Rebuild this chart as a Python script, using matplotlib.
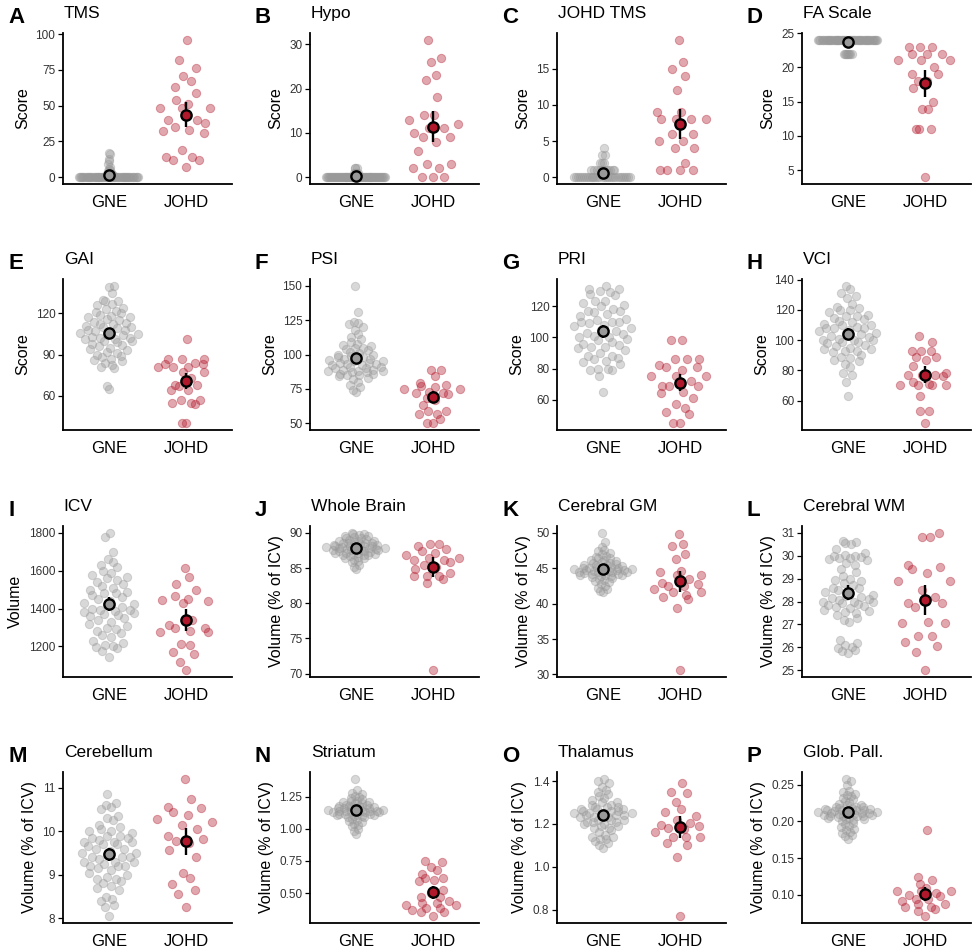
import numpy as np
import matplotlib
matplotlib.use("Agg")
import matplotlib.pyplot as plt
from matplotlib.transforms import offset_copy

plt.rcParams["font.family"] = ["Liberation Sans", "DejaVu Sans"]

# ── Données ───────────────────────────────────────────────────────────────────
GROUPS = ["GNE", "JOHD"]
VOL_LABEL = "Volume (% of ICV)"

TMS_GNE = [17, 16, 13, 11, 9, 7, 6, 5, 4, 3, 3, 2, 2, 2, 1, 1,
           0, 0, 0, 0, 0, 0, 0, 0, 0, 0, 0, 0, 0, 0, 0, 0, 0, 0, 0, 0, 0, 0, 0, 0, 0, 0,
           0, 0, 0, 0, 0, 0, 0, 0, 0, 0, 0, 0, 0, 0, 0, 0, 0, 0, 0, 0, 0, 0, 0, 0, 0, 0]
TMS_JOHD = [96, 82, 76, 71, 67, 63, 59, 54, 51, 48, 48, 48, 40, 40, 38, 35, 33, 32, 31,
            19, 14, 14, 12, 12, 7]

HYPO_GNE = [2, 2, 2, 1, 1, 1, 1,
            0, 0, 0, 0, 0, 0, 0, 0, 0, 0, 0, 0, 0, 0, 0, 0, 0, 0, 0, 0, 0, 0, 0, 0, 0,
            0, 0, 0, 0, 0, 0, 0, 0, 0, 0, 0, 0, 0, 0, 0, 0, 0, 0, 0, 0, 0, 0, 0, 0, 0,
            0, 0, 0, 0, 0, 0, 0, 0, 0, 0, 0]
HYPO_JOHD = [31, 27, 26, 23, 22, 18, 14, 14, 13, 12, 11, 11, 10, 9, 9, 8, 6, 3, 3, 2, 2,
             0, 0, 0]

JTMS_GNE = [4, 3, 3, 2, 2, 2, 1, 1, 1, 1, 1, 1, 1, 1, 1, 1, 1,
            0, 0, 0, 0, 0, 0, 0, 0, 0, 0, 0, 0, 0, 0, 0, 0, 0, 0, 0, 0, 0, 0, 0, 0, 0,
            0, 0, 0]
JTMS_JOHD = [19, 16, 15, 14, 12, 9, 9, 8, 8, 8, 8, 6, 6, 5, 5, 4, 4, 2, 1, 1, 1, 1]

FA_GNE = [24, 24, 24, 24, 24, 24, 24, 24, 24, 24, 24, 24, 24, 24, 24, 24, 24, 24, 24, 24,
          24, 24, 24, 24, 24, 24, 24, 24, 24, 24, 24, 24, 24, 24, 24, 24, 24, 24, 24, 24,
          24, 24, 24, 24, 24, 24, 24, 24, 24, 24, 24, 24,
          22, 22, 22, 22, 22, 22, 22, 22]
FA_JOHD = [23, 23, 23, 22, 22, 22, 21, 21, 21, 20, 19, 19, 18, 18, 17, 15, 14, 14,
           11, 11, 11, 4]

GAI_GNE = [140, 139, 135, 130, 129, 129, 127, 126, 124, 123,
           122, 121, 120, 119, 118, 117, 117, 116, 115, 114,
           113, 112, 112, 111, 110, 110, 109, 108, 108, 107,
           106, 106, 105, 104, 104, 103, 102, 102, 101, 101,
           100, 100, 99, 98, 97, 96, 95, 94, 93, 92,
           91, 90, 89, 88, 87, 86, 85, 84, 82, 81, 80, 67, 65]
GAI_JOHD = [101, 87, 87, 87, 84, 83, 83, 81, 81, 81, 77, 77, 73, 68, 68, 67, 64, 64,
            57, 57, 55, 55, 54, 40, 40]

PSI_GNE = [150, 131, 124, 123, 122, 120, 118, 115, 113, 111,
           109, 108, 107, 106, 105, 105, 104, 103, 102, 101,
           100, 100, 99, 98, 98, 97, 97, 96, 96, 95,
           95, 94, 94, 93, 93, 92, 92, 91, 91, 90,
           90, 89, 89, 88, 88, 88, 87, 87, 86, 86,
           85, 85, 84, 83, 82, 80, 78, 76, 74, 73]
PSI_JOHD = [89, 89, 84, 79, 78, 77, 76, 75, 75, 73, 72, 72, 71, 68, 67, 63, 59, 59,
            57, 57, 53, 50, 50]

PRI_GNE = [133, 131, 131, 130, 129, 128, 127, 123, 123, 122,
           121, 120, 118, 117, 117, 116, 115, 114, 112, 111,
           110, 110, 110, 109, 108, 107, 106, 105, 104, 103,
           102, 101, 100, 100, 99, 98, 97, 96, 95, 94,
           94, 93, 92, 90, 88, 88, 87, 86, 85, 84,
           83, 80, 80, 79, 79, 75, 65]
PRI_JOHD = [98, 98, 86, 86, 86, 82, 81, 81, 79, 75, 75, 75, 72, 69, 69, 69, 65, 64,
            61, 57, 55, 52, 51, 45, 45]

VCI_GNE = [136, 134, 131, 129, 128, 124, 122, 121, 120, 120,
           119, 117, 116, 116, 115, 114, 113, 112, 111, 110, 110, 109,
           108, 108, 108, 107, 106, 105, 105, 104, 103, 102, 101,
           100, 100, 100, 99, 99, 98, 97, 96, 95, 94, 94,
           93, 93, 92, 90, 89, 88, 87, 86, 84, 82, 78, 77, 72, 63]
VCI_JOHD = [103, 99, 93, 93, 93, 89, 89, 87, 83, 78, 77, 77, 77, 76, 72, 71, 70, 70,
            70, 70, 63, 53, 53, 45]

ICV_GNE = [1800, 1780, 1700, 1660, 1645, 1630, 1620, 1600, 1590, 1575,
           1565, 1560, 1550, 1540, 1530, 1520, 1510, 1500, 1490, 1485,
           1480, 1470, 1460, 1450, 1440, 1430, 1425, 1420, 1410, 1400,
           1395, 1390, 1385, 1380, 1375, 1370, 1365, 1360, 1350, 1340,
           1330, 1320, 1310, 1300, 1290, 1280, 1270, 1260, 1250, 1230,
           1220, 1210, 1200, 1195, 1190, 1175, 1145]
ICV_JOHD = [1617, 1568, 1529, 1498, 1465, 1452, 1444, 1440, 1428, 1340, 1311, 1297,
            1297, 1283, 1274, 1274, 1215, 1206, 1171, 1159, 1117, 1075]

WB_GNE = [90.0, 89.9, 89.8, 89.7, 89.6, 89.5, 89.4, 89.3, 89.2, 89.1,
          89.0, 88.9, 88.9, 88.8, 88.7, 88.6, 88.6, 88.5, 88.5, 88.4, 88.3, 88.3,
          88.2, 88.2, 88.1, 88.1, 88.0, 88.0, 88.0, 87.9, 87.9, 87.8, 87.8, 87.7,
          87.7, 87.6, 87.6, 87.5, 87.5, 87.4, 87.4, 87.3, 87.2, 87.2, 87.1, 87.0,
          87.0, 86.9, 86.9, 86.8, 86.7, 86.6, 86.5, 86.4, 86.2, 86.0, 85.8, 85.5,
          85.2, 84.8]
WB_JOHD = [88.4, 88.4, 88.1, 87.7, 87.4, 87.1, 86.8, 86.5, 86.5, 86.1, 86.1, 85.8,
           85.5, 85.2, 84.8, 84.3, 83.9, 83.9, 83.9, 83.4, 82.9, 70.5]

GM_GNE = [50.0, 48.7, 48.0, 47.6, 47.4, 47.2, 47.0, 46.8, 46.6, 46.5, 46.4,
          46.2, 46.1, 46.0, 45.9, 45.8, 45.7, 45.6, 45.5, 45.4, 45.4, 45.3, 45.2,
          45.2, 45.1, 45.1, 45.0, 45.0, 44.9, 44.9, 44.8, 44.8, 44.7, 44.7, 44.6,
          44.6, 44.5, 44.5, 44.4, 44.4, 44.3, 44.2, 44.2, 44.1, 44.1, 44.0, 43.9,
          43.9, 43.8, 43.6, 43.5, 43.4, 43.2, 43.0, 42.8, 42.5, 42.2, 42.0, 41.8,
          41.6]
GM_JOHD = [49.8, 48.4, 48.1, 47.0, 46.3, 44.6, 44.5, 44.0, 44.0, 43.5, 42.9, 42.8,
           42.5, 42.5, 42.1, 41.6, 41.6, 41.2, 40.9, 40.6, 39.4, 30.6]

WM_GNE = [30.65, 30.6, 30.55, 30.5, 30.3, 30.1, 30.05, 30.0, 30.0, 29.95,
          29.9, 29.9, 29.85, 29.8, 29.7, 29.6, 29.4, 29.3, 29.1, 29.0, 28.95, 28.9,
          28.8, 28.7, 28.6, 28.6, 28.5, 28.4, 28.4, 28.3, 28.25, 28.2, 28.15, 28.1,
          28.05, 28.0, 28.0, 28.0, 27.95, 27.9, 27.85, 27.8, 27.75, 27.7,
          27.65, 27.6, 27.55, 27.5, 27.4, 27.3, 27.2, 27.1,
          26.3, 26.2, 26.1, 26.0, 25.95, 25.9, 25.85, 25.75]
WM_JOHD = [31.0, 30.8, 30.8, 29.6, 29.5, 29.4, 29.25, 28.9, 28.9, 28.5, 28.2, 27.95,
           27.95, 27.75, 27.1, 27.05, 27.05, 26.5, 26.5, 26.25, 26.05, 25.8, 25.0]

CBL_GNE = [10.85, 10.65, 10.6, 10.55, 10.5, 10.35, 10.3, 10.25, 10.15, 10.1,
           10.05, 10.0, 10.0, 9.95, 9.9, 9.9, 9.85, 9.85, 9.8, 9.75, 9.75, 9.75,
           9.7, 9.7, 9.65, 9.6, 9.6, 9.55, 9.5, 9.5, 9.45, 9.4, 9.4, 9.4, 9.35,
           9.3, 9.3, 9.3, 9.25, 9.2, 9.2, 9.2, 9.15, 9.1, 9.05, 9.0, 8.95,
           8.9, 8.9, 8.85, 8.8, 8.75, 8.7, 8.65, 8.5, 8.45, 8.4, 8.3, 8.25, 8.05]
CBL_JOHD = [11.2, 10.73, 10.55, 10.54, 10.44, 10.38, 10.28, 10.2, 10.14, 10.05, 9.88,
            9.83, 9.78, 9.72, 9.57, 9.4, 9.05, 8.93, 8.78, 8.65, 8.56, 8.26]

STR_GNE = [1.39, 1.30, 1.28, 1.27, 1.26, 1.25, 1.24, 1.23, 1.22, 1.22, 1.21, 1.21,
           1.20, 1.20, 1.19, 1.19, 1.18, 1.18, 1.18, 1.17, 1.17, 1.17, 1.16, 1.16,
           1.16, 1.15, 1.15, 1.15, 1.15, 1.14, 1.14, 1.14, 1.14, 1.14, 1.13, 1.13,
           1.13, 1.13, 1.12, 1.12, 1.12, 1.11, 1.11, 1.11, 1.10, 1.10, 1.09, 1.09,
           1.08, 1.07, 1.06, 1.05, 1.04, 1.03, 1.02, 1.00, 0.98, 0.96]
STR_JOHD = [0.75, 0.74, 0.70, 0.68, 0.65, 0.62, 0.62, 0.60, 0.59, 0.52, 0.50, 0.47,
            0.47, 0.44, 0.42, 0.42, 0.41, 0.41, 0.38, 0.38, 0.37, 0.35, 0.35, 0.32]

THAL_GNE = [1.41, 1.40, 1.39, 1.37, 1.36, 1.35, 1.34, 1.33, 1.32, 1.31,
            1.30, 1.30, 1.29, 1.29, 1.28, 1.28, 1.28, 1.27, 1.27, 1.27, 1.26, 1.26,
            1.26, 1.25, 1.25, 1.25, 1.25, 1.24, 1.24, 1.24, 1.24, 1.23, 1.23, 1.23,
            1.22, 1.22, 1.22, 1.21, 1.21, 1.21, 1.20, 1.20, 1.19, 1.19, 1.18, 1.18,
            1.17, 1.16, 1.15, 1.14, 1.14, 1.13, 1.13, 1.12, 1.11, 1.10, 1.09]
THAL_JOHD = [1.39, 1.35, 1.345, 1.30, 1.27, 1.255, 1.235, 1.22, 1.205, 1.195, 1.19,
             1.18, 1.175, 1.16, 1.14, 1.14, 1.14, 1.11, 1.10, 1.045, 0.77]

GP_GNE = [0.258, 0.255, 0.250, 0.242, 0.240, 0.238, 0.236, 0.234, 0.232, 0.230,
          0.228, 0.226, 0.224, 0.222, 0.222, 0.220, 0.220, 0.219, 0.218, 0.218,
          0.217, 0.217, 0.216, 0.216, 0.215, 0.215, 0.214, 0.214, 0.213, 0.213,
          0.212, 0.212, 0.211, 0.211, 0.210, 0.210, 0.209, 0.209, 0.208, 0.208,
          0.207, 0.207, 0.206, 0.205, 0.205, 0.204, 0.203, 0.202, 0.200, 0.198,
          0.196, 0.194, 0.192, 0.190, 0.188, 0.186, 0.184, 0.182, 0.180, 0.176]
GP_JOHD = [0.189, 0.124, 0.120, 0.115, 0.110, 0.105, 0.105, 0.105, 0.102, 0.100,
           0.098, 0.094, 0.094, 0.091, 0.088, 0.088, 0.084, 0.084, 0.081, 0.078, 0.071]

PANELS = [
    # lettre, titre, label y, GNE, JOHD, ticks y, format des ticks
    ("A", "TMS", "Score", TMS_GNE, TMS_JOHD, [0, 25, 50, 75, 100], "{:.0f}"),
    ("B", "Hypo", "Score", HYPO_GNE, HYPO_JOHD, [0, 10, 20, 30], "{:.0f}"),
    ("C", "JOHD TMS", "Score", JTMS_GNE, JTMS_JOHD, [0, 5, 10, 15], "{:.0f}"),
    ("D", "FA Scale", "Score", FA_GNE, FA_JOHD, [5, 10, 15, 20, 25], "{:.0f}"),
    ("E", "GAI", "Score", GAI_GNE, GAI_JOHD, [60, 90, 120], "{:.0f}"),
    ("F", "PSI", "Score", PSI_GNE, PSI_JOHD, [50, 75, 100, 125, 150], "{:.0f}"),
    ("G", "PRI", "Score", PRI_GNE, PRI_JOHD, [60, 80, 100, 120], "{:.0f}"),
    ("H", "VCI", "Score", VCI_GNE, VCI_JOHD, [60, 80, 100, 120, 140], "{:.0f}"),
    ("I", "ICV", "Volume", ICV_GNE, ICV_JOHD, [1200, 1400, 1600, 1800], "{:.0f}"),
    ("J", "Whole Brain", VOL_LABEL, WB_GNE, WB_JOHD, [70, 75, 80, 85, 90], "{:.0f}"),
    ("K", "Cerebral GM", VOL_LABEL, GM_GNE, GM_JOHD, [30, 35, 40, 45, 50], "{:.0f}"),
    ("L", "Cerebral WM", VOL_LABEL, WM_GNE, WM_JOHD, [25, 26, 27, 28, 29, 30, 31], "{:.0f}"),
    ("M", "Cerebellum", VOL_LABEL, CBL_GNE, CBL_JOHD, [8, 9, 10, 11], "{:.0f}"),
    ("N", "Striatum", VOL_LABEL, STR_GNE, STR_JOHD, [0.5, 0.75, 1.0, 1.25], "{:.2f}"),
    ("O", "Thalamus", VOL_LABEL, THAL_GNE, THAL_JOHD, [0.8, 1.0, 1.2, 1.4], "{:.1f}"),
    ("P", "Glob. Pall.", VOL_LABEL, GP_GNE, GP_JOHD, [0.10, 0.15, 0.20, 0.25], "{:.2f}"),
]

PT_COLORS = {"GNE": "#999999", "JOHD": "#B2182B"}
CI_MULT = 1.85

# grille en pixels (figure 975 x 948, dpi 100)
FIG_W, FIG_H = 975, 948
COL_LEFT = [63, 310, 557, 802]
ROW_TOP = [33, 279, 526, 772]
AX_W, AX_H = 169, 151


def bw_nrd0(y):
    hi = np.std(y, ddof=1)
    q25, q75 = np.percentile(y, [25, 75])
    lo = min(hi, (q75 - q25) / 1.34)
    if lo == 0:
        lo = hi or abs(y[0]) or 1.0
    return 0.9 * lo * len(y) ** -0.2


def van_der_corput(n):
    out = []
    for i in range(1, n + 1):
        v, denom, k = 0.0, 1.0, i
        while k:
            denom *= 2
            k, r = divmod(k, 2)
            v += r / denom
        out.append(v)
    return np.array(out)


def quasirandom(y, width=0.4, adjust=0.5):
    """Décalages x façon ggbeeswarm::geom_quasirandom."""
    y = np.asarray(y, float)
    bw = bw_nrd0(y) * adjust
    grid = np.linspace(y.min() - 3 * bw, y.max() + 3 * bw, 512)
    dens = np.exp(-0.5 * ((grid[:, None] - y[None, :]) / bw) ** 2).sum(axis=1)
    dens /= dens.max()
    rank = np.empty(len(y), int)
    rank[np.argsort(y, kind="stable")] = np.arange(len(y))
    off = van_der_corput(len(y))[rank]
    return (off - 0.5) * 2 * np.interp(y, grid, dens) * width


fig = plt.figure(figsize=(FIG_W / 100, FIG_H / 100), dpi=100)

for idx, (letter, title, ylabel, gne, johd, ticks, fmt) in enumerate(PANELS):
    r, c = divmod(idx, 4)
    rect = [COL_LEFT[c] / FIG_W, 1 - (ROW_TOP[r] + AX_H) / FIG_H, AX_W / FIG_W, AX_H / FIG_H]
    ax = fig.add_axes(rect)

    for xpos, (grp, vals) in enumerate(zip(GROUPS, [gne, johd]), start=1):
        vals = np.asarray(vals, float)
        ax.scatter(xpos + quasirandom(vals), vals, s=36, color=PT_COLORS[grp],
                   alpha=0.38, edgecolors=PT_COLORS[grp], linewidths=0.7, zorder=2)
        m = vals.mean()
        ci = CI_MULT * vals.std(ddof=1) / np.sqrt(len(vals))
        ax.plot([xpos, xpos], [m - ci, m + ci], color="black", lw=1.7,
                solid_capstyle="butt", zorder=3)
        ax.scatter([xpos], [m], s=55, color=PT_COLORS[grp], edgecolors="black",
                   linewidths=1.7, zorder=4)

    allv = np.concatenate([gne, johd]).astype(float)
    pad = 0.05 * (allv.max() - allv.min())
    ax.set_ylim(allv.min() - pad, allv.max() + pad)
    ax.set_xlim(0.4, 2.6)
    ax.set_xticks([1, 2])
    ax.set_xticklabels(GROUPS)
    ax.set_yticks(ticks)
    ax.set_yticklabels([fmt.format(t) for t in ticks])
    ax.set_ylabel(ylabel, fontsize=11.5, labelpad=4)

    for side in ["top", "right"]:
        ax.spines[side].set_visible(False)
    for side in ["left", "bottom"]:
        ax.spines[side].set_linewidth(1.3)
    ax.tick_params(axis="x", length=0, pad=8, labelsize=12)
    ax.tick_params(axis="y", length=3.5, width=0.9, pad=2, labelsize=8.5,
                   labelcolor="#333333")

    ax.text(0.005, 1, title, fontsize=12.5, ha="left", va="baseline",
            transform=offset_copy(ax.transAxes, fig=fig, x=0, y=15, units="dots"))
    ax.text(0, 1, letter, fontsize=16, fontweight="bold", ha="left", va="baseline",
            transform=offset_copy(ax.transAxes, fig=fig, x=-55, y=10, units="dots"))

fig.savefig("out.png", dpi=100)
